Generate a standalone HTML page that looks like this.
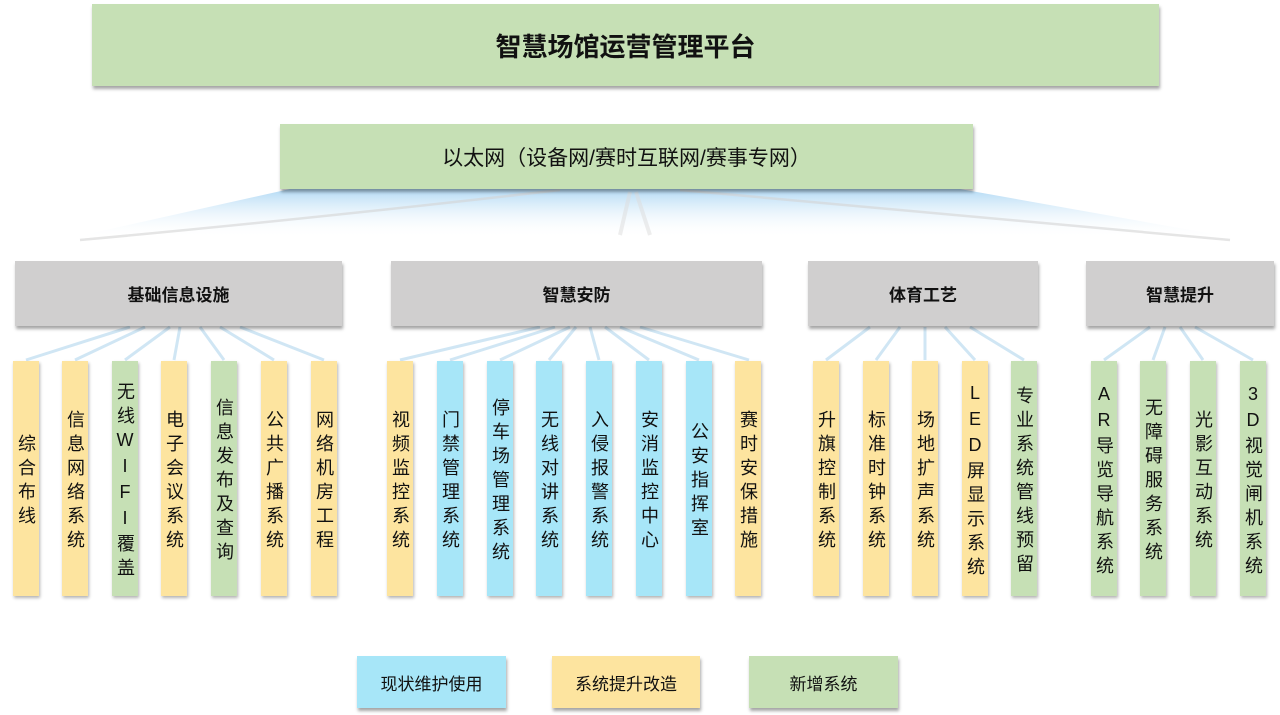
<!DOCTYPE html>
<html><head><meta charset="utf-8"><style>
body{margin:0;width:1280px;height:715px;background:#fff;position:relative;overflow:hidden;font-family:"Liberation Sans","Noto Sans CJK SC",sans-serif;color:#111}
.b{position:absolute;display:flex;align-items:center;justify-content:center;box-shadow:1px 3px 3px rgba(0,0,0,.35);box-sizing:border-box}
.g{background:#c6e0b5}.y{background:#fde49f}.c{background:#a7e6f8}.k{background:#d0cfcf}
.v{position:absolute;top:361px;height:235px;width:26px;display:flex;align-items:center;justify-content:center;box-shadow:1px 2px 3px rgba(0,0,0,.3);font-size:18px;line-height:24px;}
.v span{writing-mode:vertical-rl;text-orientation:upright;letter-spacing:6px;margin-top:6px}
.cat{top:261px;height:65px;font-size:17px;font-weight:bold}
.lg{top:656px;height:52px;font-size:17px}
</style></head><body>
<svg width="1280" height="715" style="position:absolute;left:0;top:0">
<defs>
<linearGradient id="f" x1="0" y1="0" x2="0" y2="1"><stop offset="0" stop-color="#9fd0f2" stop-opacity=".8"/><stop offset="1" stop-color="#fff" stop-opacity="0"/></linearGradient>
</defs>
<path d="M290,189 L960,189 L1235,238 L70,238 Z" fill="url(#f)"/>
<path d="M560,190 Q300,220 80,240" stroke="#d4d4d4" stroke-width="2.5" fill="none" opacity=".6"/>
<path d="M680,190 Q950,215 1230,240" stroke="#d4d4d4" stroke-width="2.5" fill="none" opacity=".6"/>
<path d="M630,192 L620,235 M636,192 L650,235" stroke="#ddd" stroke-width="4" opacity=".5"/>
<g stroke="#bcdcf0" stroke-width="3" fill="none" opacity=".7">
<path d="M130,327 L26,360 M145,327 L75,360 M170,327 L125,360 M180,327 L174,360 M200,327 L224,360 M220,327 L274,360 M240,327 L324,360"/>
<path d="M540,327 L400,360 M555,327 L450,360 M570,327 L500,360 M576,327 L549,360 M590,327 L599,360 M605,327 L649,360 M620,327 L699,360 M640,327 L749,360"/>
<path d="M870,327 L826,360 M900,327 L876,360 M925,327 L925,360 M945,327 L975,360 M970,327 L1024,360"/>
<path d="M1150,327 L1104,360 M1165,327 L1153,360 M1180,327 L1203,360 M1195,327 L1253,360"/>
</g>
</svg>
<div class="b g" style="left:92px;top:4px;width:1067px;height:82px;font-size:26px;font-weight:bold">智慧场馆运营管理平台</div>
<div class="b g" style="left:280px;top:124px;width:693px;height:65px;font-size:21px">以太网（设备网/赛时互联网/赛事专网）</div>
<div class="b k cat" style="left:15px;width:327px">基础信息设施</div>
<div class="b k cat" style="left:391px;width:371px">智慧安防</div>
<div class="b k cat" style="left:808px;width:230px">体育工艺</div>
<div class="b k cat" style="left:1086px;width:188px">智慧提升</div>

<div class="v y" style="left:13px"><span>综合布线</span></div>
<div class="v y" style="left:62px"><span>信息网络系统</span></div>
<div class="v g" style="left:112px"><span>无线WIFI覆盖</span></div>
<div class="v y" style="left:161px"><span>电子会议系统</span></div>
<div class="v g" style="left:211px"><span>信息发布及查询</span></div>
<div class="v y" style="left:261px"><span>公共广播系统</span></div>
<div class="v y" style="left:311px"><span>网络机房工程</span></div>

<div class="v y" style="left:387px"><span>视频监控系统</span></div>
<div class="v c" style="left:437px"><span>门禁管理系统</span></div>
<div class="v c" style="left:487px"><span>停车场管理系统</span></div>
<div class="v c" style="left:536px"><span>无线对讲系统</span></div>
<div class="v c" style="left:586px"><span>入侵报警系统</span></div>
<div class="v c" style="left:636px"><span>安消监控中心</span></div>
<div class="v c" style="left:686px"><span>公安指挥室</span></div>
<div class="v y" style="left:735px"><span>赛时安保措施</span></div>

<div class="v y" style="left:813px"><span>升旗控制系统</span></div>
<div class="v y" style="left:863px"><span>标准时钟系统</span></div>
<div class="v y" style="left:912px"><span>场地扩声系统</span></div>
<div class="v y" style="left:962px"><span>LED屏显示系统</span></div>
<div class="v g" style="left:1011px"><span>专业系统管线预留</span></div>

<div class="v g" style="left:1091px"><span>AR导览导航系统</span></div>
<div class="v g" style="left:1140px"><span>无障碍服务系统</span></div>
<div class="v g" style="left:1190px"><span>光影互动系统</span></div>
<div class="v g" style="left:1240px"><span>3D视觉闸机系统</span></div>

<div class="b c lg" style="left:357px;width:149px">现状维护使用</div>
<div class="b y lg" style="left:552px;width:148px">系统提升改造</div>
<div class="b g lg" style="left:749px;width:149px">新增系统</div>
</body></html>
